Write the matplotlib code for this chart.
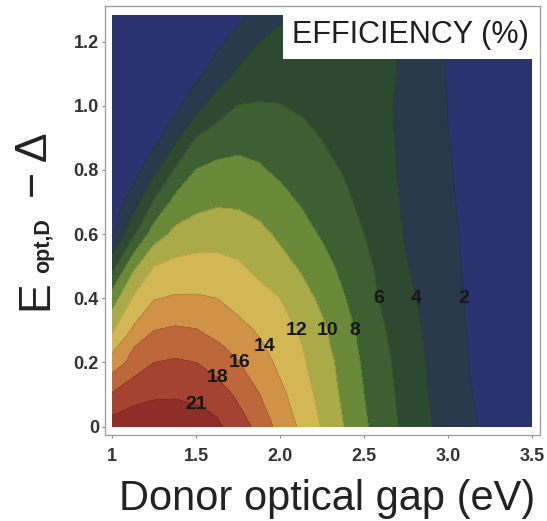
import numpy as np
import matplotlib
matplotlib.use('Agg')
import matplotlib.pyplot as plt
from matplotlib.patches import Rectangle

plt.rcParams['font.family'] = ['Liberation Sans', 'DejaVu Sans']

# ── Grid: donor optical gap (eV) vs E_opt,D - Delta ───────────
gap = [1.0, 1.125, 1.25, 1.375, 1.5, 1.625, 1.75, 1.875, 2.0, 2.125, 2.25,
       2.375, 2.5, 2.625, 2.75, 2.875, 3.0, 3.125, 3.25, 3.375, 3.5]
offset = [0.0, 0.05, 0.1, 0.15, 0.2, 0.25, 0.3, 0.4, 0.5, 0.6, 0.7, 0.8,
          0.9, 1.0, 1.1, 1.2, 1.28]

# efficiency (%), one row per offset value
eff = [
    [22.4, 22.8, 23.0, 22.9, 22.4, 21.6, 19.3, 17.2, 15.4, 13.65, 11.85, 10.05, 8.3, 6.85, 5.5, 4.25, 3.23, 2.27, 1.6, 1.1, 0.7],
    [20.4, 21.5, 21.8, 21.8, 21.5, 20.55, 18.35, 16.6, 14.9, 13.25, 11.6, 9.85, 8.15, 6.7, 5.4, 4.15, 3.15, 2.2, 1.55, 1.05, 0.7],
    [18.2, 19.8, 20.6, 20.7, 20.2, 19.2, 17.55, 16.05, 14.5, 12.95, 11.35, 9.65, 8.0, 6.6, 5.3, 4.05, 3.1, 2.1, 1.5, 1.0, 0.65],
    [16.55, 18.1, 19.0, 19.4, 19.0, 18.05, 16.75, 15.4, 14.0, 12.6, 11.1, 9.5, 7.85, 6.5, 5.2, 3.95, 3.0, 2.05, 1.45, 1.0, 0.65],
    [14.95, 16.6, 18.0, 18.25, 18.0, 17.05, 16.1, 14.85, 13.6, 12.35, 10.95, 9.35, 7.7, 6.4, 5.1, 3.9, 2.9, 1.97, 1.4, 0.95, 0.6],
    [13.35, 15.9, 16.9, 17.3, 17.0, 16.3, 15.35, 14.3, 13.2, 12.1, 10.6, 9.05, 7.5, 6.2, 4.98, 3.8, 2.85, 1.92, 1.35, 0.92, 0.6],
    [11.75, 14.3, 16.0, 16.3, 16.1, 15.35, 14.6, 13.8, 12.8, 11.75, 10.4, 8.87, 7.37, 6.05, 4.86, 3.73, 2.77, 1.86, 1.3, 0.9, 0.58],
    [9.0, 12.2, 13.9, 14.2, 14.2, 14.0, 13.3, 12.65, 12.0, 10.8, 9.55, 8.15, 6.85, 5.6, 4.45, 3.48, 2.62, 1.8, 1.25, 0.85, 0.55],
    [5.2, 9.5, 12.0, 12.55, 12.7, 12.6, 12.25, 11.5, 10.65, 9.75, 8.65, 7.55, 6.5, 5.35, 4.1, 3.25, 2.45, 1.75, 1.2, 0.82, 0.52],
    [1.7, 5.6, 9.0, 10.5, 11.0, 11.2, 11.0, 10.5, 9.65, 8.7, 7.8, 6.9, 6.0, 4.85, 3.82, 3.06, 2.3, 1.7, 1.15, 0.8, 0.5],
    [0.9, 3.0, 6.2, 8.6, 9.4, 9.75, 9.7, 9.3, 8.6, 7.85, 7.1, 6.4, 5.55, 4.6, 3.73, 2.97, 2.2, 1.65, 1.12, 0.78, 0.5],
    [0.55, 1.2, 3.5, 6.2, 8.05, 8.5, 8.6, 8.2, 7.65, 7.05, 6.5, 5.9, 5.15, 4.4, 3.64, 2.88, 2.12, 1.6, 1.1, 0.75, 0.48],
    [0.38, 0.7, 1.4, 3.4, 6.0, 6.9, 7.3, 7.35, 7.1, 6.6, 5.95, 5.4, 4.85, 4.3, 3.62, 2.83, 2.03, 1.55, 1.05, 0.72, 0.46],
    [0.28, 0.45, 0.8, 1.5, 3.2, 5.0, 6.05, 6.15, 6.05, 5.7, 5.3, 4.95, 4.6, 4.2, 3.65, 2.8, 1.97, 1.5, 1.0, 0.7, 0.45],
    [0.22, 0.33, 0.55, 0.95, 1.6, 2.9, 4.3, 5.0, 5.4, 5.5, 5.4, 5.15, 4.8, 4.35, 3.7, 2.75, 1.9, 1.45, 0.98, 0.68, 0.44],
    [0.17, 0.25, 0.4, 0.65, 1.05, 1.65, 2.6, 3.95, 4.6, 4.95, 5.05, 5.0, 4.8, 4.4, 3.75, 2.7, 1.85, 1.4, 0.95, 0.66, 0.43],
    [0.12, 0.18, 0.28, 0.45, 0.75, 1.15, 1.65, 2.6, 3.6, 4.35, 4.7, 4.8, 4.7, 4.4, 3.9, 2.7, 1.8, 1.38, 0.92, 0.64, 0.42],
]

contour_levels = [2, 4, 6, 8, 10, 12, 14, 16, 18, 21]
band_colors = ['#2a3270', '#29394c', '#2d4a31', '#3e5f31', '#6a8a3a',
               '#aaab48', '#d2b754', '#cf9246', '#bd683b', '#a4432f',
               '#8d2e28']

# roughly where each contour value is written
label_spots = {
    21: (1.45, 0.092), 18: (1.62, 0.16), 16: (1.76, 0.20), 14: (1.91, 0.255),
    12: (2.11, 0.29), 10: (2.28, 0.316), 8: (2.42, 0.34), 6: (2.61, 0.37),
    4: (2.81, 0.38), 2: (3.09, 0.40),
}

X, Y = np.meshgrid(gap, offset)
Z = np.array(eff)

W, H = 547, 521
fig = plt.figure(figsize=(W / 100, H / 100), dpi=100)
ax = fig.add_axes([104.5 / W, 86 / H, 435.5 / W, 429 / H])

bounds = [-1] + contour_levels + [40]
ax.contourf(X, Y, Z, levels=bounds, colors=band_colors)
cs = ax.contour(X, Y, Z, levels=contour_levels, colors='k',
                linewidths=0.4, alpha=0.18)

# put each value on the nearest point of its own contour line
for i, lev in enumerate(contour_levels):
    segs = [s for s in cs.allsegs[i] if len(s)]
    if not segs:
        continue
    pts = np.vstack(segs)
    px, py = label_spots[lev]
    d = (pts[:, 0] - px) ** 2 + ((pts[:, 1] - py) * 2.0) ** 2
    lx, ly = pts[np.argmin(d)]
    ax.text(lx, ly, f'{lev}', ha='center', va='center', fontsize=14,
            fontweight='bold', color='#161616', zorder=3)

# title box in the upper right
ax.add_patch(Rectangle((0.410, 0.876), 0.572, 0.108, transform=ax.transAxes,
                       facecolor='white', edgecolor='none', zorder=4))
ax.text(0.702, 0.932, 'EFFICIENCY (%)', transform=ax.transAxes,
        ha='center', va='center', fontsize=22, color='#1e1e1e', zorder=5)

ax.set_xlim(0.954, 3.548)
ax.set_ylim(-0.026, 1.311)
ax.set_xticks([1, 1.5, 2.0, 2.5, 3.0, 3.5])
ax.set_xticklabels(['1', '1.5', '2.0', '2.5', '3.0', '3.5'])
ax.set_yticks([0, 0.2, 0.4, 0.6, 0.8, 1.0, 1.2])
ax.set_yticklabels(['0', '0.2', '0.4', '0.6', '0.8', '1.0', '1.2'])
ax.tick_params(direction='out', length=2.5, width=0.8, color='#888888',
               labelsize=13, labelcolor='#333333')
ax.tick_params(axis='x', pad=7)
ax.tick_params(axis='y', pad=1.5)
for lbl in ax.get_xticklabels() + ax.get_yticklabels():
    lbl.set_fontweight('bold')
for sp in ax.spines.values():
    sp.set_color('#9a9a9a')
    sp.set_linewidth(0.9)

# axis titles
fig.text(327.5 / W, 11 / H, 'Donor optical gap (eV)', fontsize=30,
         color='#222222', ha='center', va='baseline')
ylab = dict(rotation=90, rotation_mode='anchor', ha='left', va='baseline',
            color='#222222')
fig.text(47 / W, 210.5 / H, 'E', fontsize=32, **ylab)
fig.text(49 / W, 248 / H, 'opt,D', fontsize=15.5, fontweight='bold', **ylab)
fig.text(47 / W, 323 / H, '− Δ', fontsize=32, **ylab)

fig.savefig('out.png', dpi=100)
